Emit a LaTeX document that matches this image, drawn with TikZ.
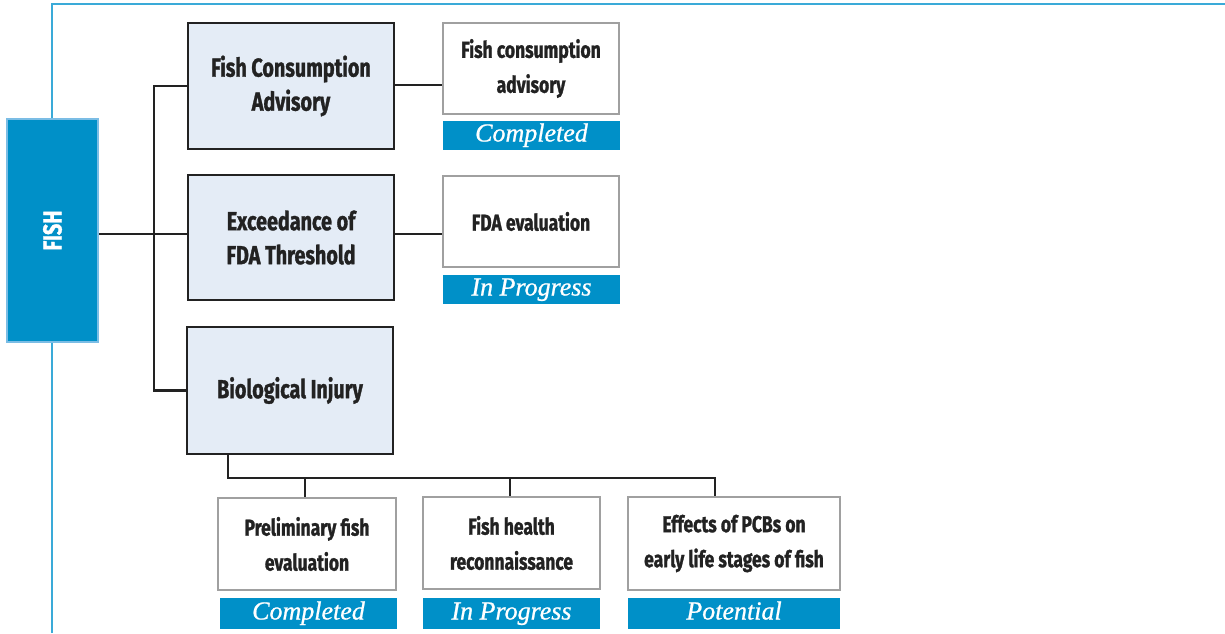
\documentclass[tikz,border=0pt]{standalone}
\usepackage{fontspec}
\newfontfamily\cond[FakeStretch=0.76, BoldFeatures={FakeBold=1.2}]{Fira Sans}
\newfontfamily\statfont[ItalicFeatures={FakeBold=0.8}]{Liberation Serif}
\definecolor{epablue}{HTML}{0090C8}
\definecolor{framebl}{HTML}{3AAAD8}
\definecolor{fishedge}{HTML}{7BBDE5}
\definecolor{lightfill}{HTML}{E4ECF6}
\definecolor{darkline}{HTML}{222222}
\definecolor{grayedge}{HTML}{A0A0A0}
\tikzset{
  mainbox/.style={draw=darkline, line width=1.8pt, fill=lightfill, align=center, inner sep=0pt,
    font=\cond\bfseries\fontsize{26}{34}\selectfont, text=darkline},
  subbox/.style={draw=grayedge, line width=1.2pt, fill=white, align=center, inner sep=0pt,
    font=\cond\bfseries\fontsize{23}{35}\selectfont, text=darkline},
  statbox/.style={fill=epablue, inner sep=0pt, text=white, text height=18pt, text depth=6pt,
    font=\statfont\itshape\fontsize{26}{28}\selectfont},
  conn/.style={draw=darkline, line width=2.6pt},
  framel/.style={draw=framebl, line width=1.6pt}
}
\begin{document}
\begin{tikzpicture}[x=1pt,y=-1pt]
\useasboundingbox (0,0) rectangle (1225,633);
\draw[framel] (52,633) -- (52,4) -- (1225,4);

\node[fill=epablue, draw=fishedge, line width=2.2pt, minimum width=91pt, minimum height=223pt, inner sep=0pt] (fish) at (52.5,230.5) {};
\node[rotate=90, text=white, font=\cond\bfseries\fontsize{26}{28}\selectfont] (fishlbl) at (fish.center) {FISH};

\node[mainbox, minimum width=206pt, minimum height=126pt] (b1) at (291,86) {Fish Consumption\\Advisory};
\node[mainbox, minimum width=206pt, minimum height=125pt] (b2) at (291,237.5) {Exceedance of\\FDA Threshold};
\node[mainbox, minimum width=206pt, minimum height=127pt] (b3) at (290,390.5) {Biological Injury};

\node[subbox, minimum width=176pt, minimum height=91pt] (b4) at (531,68.5) {Fish consumption\\advisory};
\node[statbox, minimum width=177pt, minimum height=29pt] (s4) at (531.5,135.5) {Completed};
\node[subbox, minimum width=176pt, minimum height=91pt] (b5) at (531,221.5) {FDA evaluation};
\node[statbox, minimum width=177pt, minimum height=29pt] (s5) at (531.5,289.5) {In Progress};

\node[subbox, minimum width=178pt, minimum height=92pt] (b6) at (307,544) {Preliminary fish\\evaluation};
\node[subbox, minimum width=177pt, minimum height=92pt] (b7) at (511.5,543) {Fish health\\reconnaissance};
\node[subbox, minimum width=212pt, minimum height=93pt] (b8) at (734,543.5) {Effects of PCBs on\\early life stages of fish};
\node[statbox, minimum width=177pt, minimum height=31pt] (s6) at (308.5,613.5) {Completed};
\node[statbox, minimum width=177pt, minimum height=31pt] (s7) at (511.5,613.5) {In Progress};
\node[statbox, minimum width=212pt, minimum height=31pt] (s8) at (734,613.5) {Potential};

% connectors
\coordinate (bus) at (0,478);
\draw[conn] (fish.east |- 0,234) -- (b2.west |- 0,234);
\draw[conn] (b1.west) -- ++(-33,0) |- (b3.west);
\draw[conn] (b1.east |- 0,85) -- (b4.west |- 0,85);
\draw[conn] (b2.east |- 0,234) -- (b5.west |- 0,234);
\draw[conn] ([xshift=-62pt]b3.south) |- ([xshift=-19pt]b8.north |- bus) -- ([xshift=-19pt]b8.north);
\draw[conn] ([xshift=-2pt]b6.north |- bus) -- ([xshift=-2pt]b6.north);
\draw[conn] ([xshift=-1.5pt]b7.north |- bus) -- ([xshift=-1.5pt]b7.north);
\end{tikzpicture}
\end{document}
